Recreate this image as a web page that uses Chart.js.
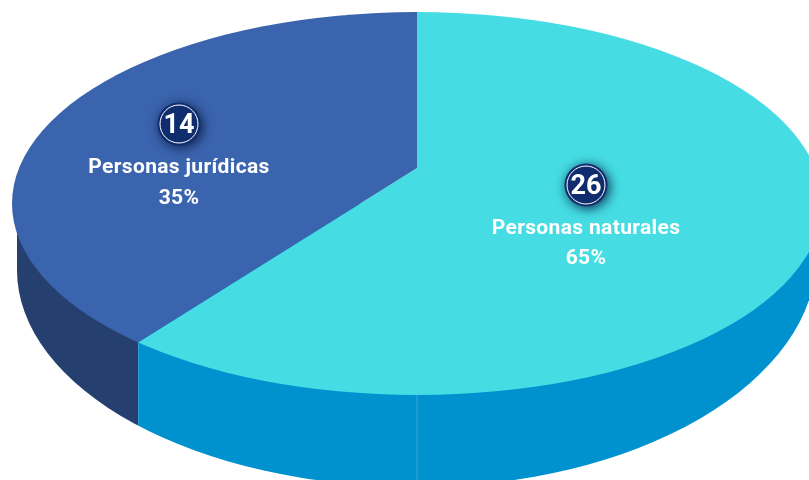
<!DOCTYPE html>
<html>
<head>
<meta charset="utf-8">
<title>Personas</title>
<script src="https://cdn.jsdelivr.net/npm/chart.js@4"></script>
<style>
  html, body { margin: 0; padding: 0; background: #fff; overflow: hidden; }
  #wrap { width: 809px; height: 480px; }
</style>
</head>
<body>
<div id="wrap"><canvas id="chart" width="809" height="480"></canvas></div>
<script>
const categories = ['Personas naturales', 'Personas jurídicas'];
const counts = [26, 14];
const percents = ['65%', '35%'];
const topColors = ['#45DDE3', '#3B64AE'];
const sideColors = ['#0091CF', '#253F6E'];

// top face ellipse, lower rim of the wall, and where the slices meet
const face = { x: 417, y: 203.5, rx: 405, ry: 191.5 };
const wall = { x: 417, rx: 400, bottom: 487, leftY: 270, rightY: 254 };
const apex = { x: 417, y: 168, squash: 0.861, grow: 3 };
const badges = [{ x: 586, y: 185 }, { x: 179, y: 124 }];
const captionGap = [44, 44];
const percentGap = [74, 75];

function ellipsePath(ctx, e) {
    ctx.beginPath();
    ctx.ellipse(e.x, e.y, e.rx, e.ry, 0, 0, Math.PI * 2);
}

// the wall's lower edge is a bit flatter on the left than on the right
function wallPath(ctx) {
    const left = wall.x - wall.rx, right = wall.x + wall.rx;
    ctx.beginPath();
    ctx.moveTo(left, face.y);
    ctx.lineTo(left, wall.leftY);
    ctx.ellipse(wall.x, wall.leftY, wall.rx, wall.bottom - wall.leftY, 0, Math.PI, Math.PI / 2, true);
    ctx.ellipse(wall.x, wall.rightY, wall.rx, wall.bottom - wall.rightY, 0, Math.PI / 2, 0, true);
    ctx.lineTo(right, face.y);
    ctx.closePath();
}

// x where a slice edge leaves the apex and hits the top face outline
function rimX(angle) {
    const dx = Math.cos(angle), dy = Math.sin(angle) * apex.squash;
    const px = (apex.x - face.x) / face.rx, py = (apex.y - face.y) / face.ry;
    const qx = dx / face.rx, qy = dy / face.ry;
    const a = qx * qx + qy * qy, b = 2 * (px * qx + py * qy), c = px * px + py * py - 1;
    const t = (-b + Math.sqrt(b * b - 4 * a * c)) / (2 * a);
    return apex.x + t * dx;
}

const piePlugin = {
    id: 'tiltedPie',
    beforeDatasetsDraw(chart) {
        const ctx = chart.ctx;
        const arcs = chart.getDatasetMeta(0).data;
        const splitX = rimX(arcs[0].endAngle);

        // side wall
        ctx.save();
        wallPath(ctx);
        ctx.clip();
        ctx.fillStyle = sideColors[1];
        ctx.fillRect(0, 0, splitX, chart.height);
        ctx.fillStyle = sideColors[0];
        ctx.fillRect(splitX, 0, chart.width - splitX, chart.height);
        ctx.fillStyle = 'rgba(255,255,255,0.2)';
        ctx.fillRect(apex.x - 0.5, 0, 1, chart.height);
        ctx.restore();

        // slices are drawn large and cut by the top face outline
        ctx.save();
        ellipsePath(ctx, face);
        ctx.clip();
        ctx.translate(apex.x, apex.y);
        ctx.scale(apex.grow, apex.grow * apex.squash);
        ctx.translate(-arcs[0].x, -arcs[0].y);
    },
    afterDatasetsDraw(chart) {
        const ctx = chart.ctx;
        ctx.restore();

        categories.forEach((name, i) => {
            const b = badges[i];
            ctx.save();
            ctx.shadowColor = 'rgba(5,20,60,0.9)';
            ctx.shadowBlur = 12;
            ctx.shadowOffsetX = 2;
            ctx.shadowOffsetY = 2;
            ctx.fillStyle = '#0F2D6E';
            ctx.beginPath();
            ctx.arc(b.x, b.y, 21.5, 0, Math.PI * 2);
            ctx.fill();
            ctx.restore();

            ctx.strokeStyle = '#fff';
            ctx.lineWidth = 1;
            ctx.beginPath();
            ctx.arc(b.x, b.y, 19, 0, Math.PI * 2);
            ctx.stroke();

            ctx.fillStyle = '#fff';
            ctx.textAlign = 'center';
            ctx.textBaseline = 'middle';
            ctx.letterSpacing = '0px';
            ctx.font = 'bold 27px Roboto';
            ctx.fillText(String(counts[i]), b.x, b.y + 2);
            ctx.letterSpacing = '0.35px';
            ctx.font = 'bold 21px Roboto';
            ctx.fillText(name, b.x, b.y + captionGap[i]);
            ctx.fillText(percents[i], b.x, b.y + percentGap[i]);
        });
    }
};

new Chart(document.getElementById('chart'), {
    type: 'pie',
    data: {
        labels: categories,
        datasets: [{
            data: counts,
            backgroundColor: topColors,
            borderWidth: 0,
            clip: false
        }]
    },
    options: {
        responsive: false,
        animation: false,
        layout: { padding: 0 },
        plugins: {
            legend: { display: false },
            tooltip: { enabled: false }
        }
    },
    plugins: [piePlugin]
});
</script>
</body>
</html>
